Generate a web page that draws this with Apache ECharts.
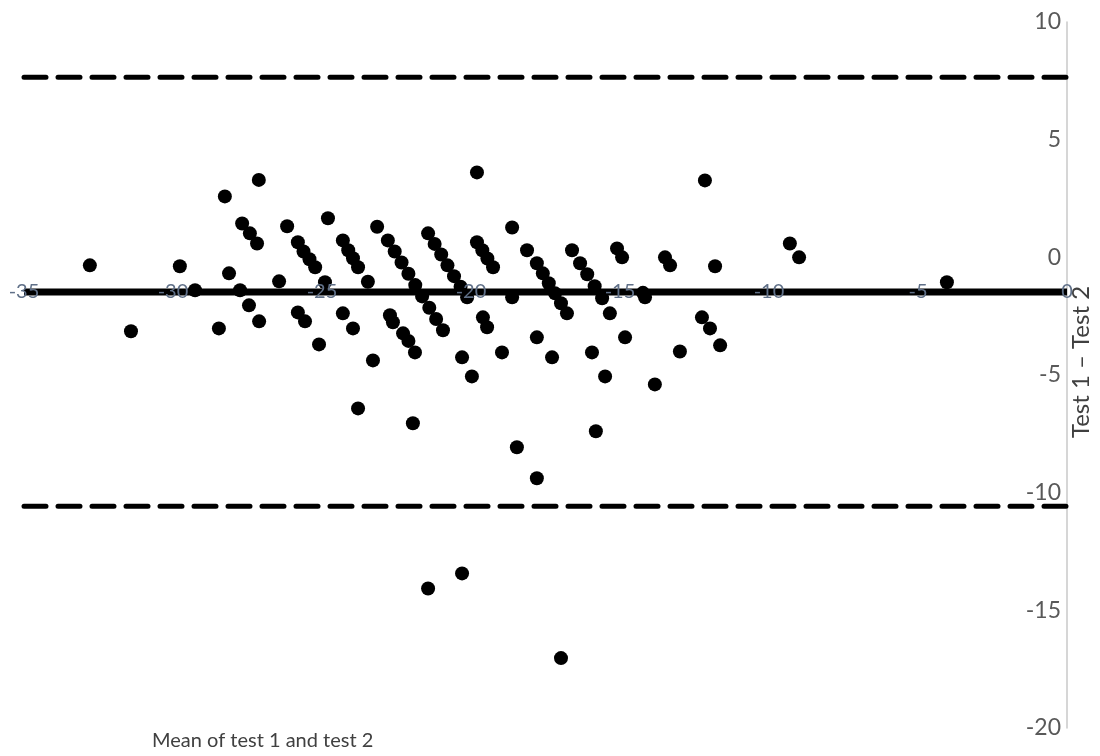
<!DOCTYPE html>
<html>
<head>
<meta charset="utf-8">
<script src="https://cdn.jsdelivr.net/npm/echarts@6/dist/echarts.min.js"></script>
<style>
html,body{margin:0;padding:0;background:#fff;overflow:hidden;width:100%;height:100%;}
#chart{width:1100px;height:756px;position:absolute;left:0;top:0;}
</style>
</head>
<body>
<div id="chart"></div>
<script>
// Mean of test 1 and test 2 (x)
const meanValues = [
 -32.79,-31.41,-29.77,-29.26,-28.46,-28.26,-28.12,-27.75,-27.68,-27.42,-27.18,-27.12,-27.45,-27.11,-26.44,-26.17,-25.81,-25.62,-25.42,-25.23,-25.81,-25.57,-25.10,-24.80,-24.90,-24.30,-24.12,-23.96,-23.79,-24.30,-23.96,-23.46,-23.15,-23.29,-23.79,
 -22.79,-22.56,-22.33,-22.10,-21.87,-21.64,-21.40,-21.17,-20.94,
 -22.72,-22.62,-22.28,-22.10,-21.88,-21.95,
 -21.44,-21.22,-21.00,-20.79,-20.57,-20.35,-20.13,
 -19.80,-19.62,-19.45,-19.26,-19.80,-19.60,-19.46,-20.30,-19.97,-18.96,-18.62,-18.62,-18.12,
 -17.79,-17.59,-17.39,-17.18,-16.98,-16.78,-17.79,-18.46,-17.79,-17.28,-16.61,
 -16.34,-16.10,-15.85,-15.60,-15.10,-14.93,-14.23,-14.16,-15.34,-14.83,-15.94,-15.50,-15.81,
 -13.49,-13.32,-13.83,-12.99,-12.15,-11.81,-12.25,-11.98,-11.64,-9.30,-8.99,-4.03,-21.44,-20.30,-16.98
];
// Test 1 - Test 2 (y)
const differences = [
 -0.34,-3.14,-0.38,-1.40,-3.02,2.59,-0.68,-1.40,1.44,1.02,0.59,3.29,-2.04,-2.72,-1.02,1.32,0.64,0.25,-0.08,-0.42,-2.34,-2.72,-3.70,1.66,-1.06,0.72,0.30,-0.04,-0.42,-2.38,-3.02,-1.04,1.30,-4.38,-6.42,
 0.72,0.25,-0.22,-0.70,-1.18,-1.66,-2.14,-2.62,-3.10,
 -2.46,-2.76,-3.23,-3.55,-4.04,-7.05,
 1.02,0.57,0.12,-0.34,-0.80,-1.25,-1.70,
 0.64,0.30,-0.05,-0.42,3.61,-2.55,-2.97,-4.25,-5.06,-4.04,1.27,-1.70,0.30,
 -0.25,-0.68,-1.10,-1.53,-1.95,-2.38,-3.40,-8.07,-9.39,-4.25,0.30,
 -0.25,-0.72,-1.23,-1.74,0.38,0.00,-1.51,-1.70,-2.38,-3.40,-4.04,-5.06,-7.39,
 0.00,-0.34,-5.40,-4.00,3.27,-0.38,-2.55,-3.02,-3.74,0.59,0.00,-1.06,-14.07,-13.43,-17.03
];
const bias = -1.47;
const upperLimit = 7.65;
const lowerLimit = -10.58;
const xRange = [-35, 0];
const yRange = [-20, 10];
const xLabelText = 'Mean of test 1 and test 2';
const yLabelText = 'Test 1 \u2013 Test 2';

const points = meanValues.map((m, i) => [m, differences[i]]);

const W = 1100, H = 756;
const gridTop = 22, gridBottom = 28, gridLeft = 24, gridRight = 33;
const gridH = H - gridTop - gridBottom;
const xAxisOffset = -((bias - yRange[0]) / (yRange[1] - yRange[0])) * gridH;

const chart = echarts.init(document.getElementById('chart'), null, {renderer: 'canvas', width: W, height: H});
const font = 'Lato, "Open Sans", sans-serif';
chart.setOption({
  animation: false,
  backgroundColor: '#ffffff',
  title: {
    text: xLabelText,
    left: 147, top: 726,
    textStyle: {fontFamily: font, fontSize: 20, fontWeight: 'normal', color: '#404040'}
  },
  graphic: [{
    type: 'text',
    x: W - 19, y: 362,
    rotation: Math.PI / 2,
    style: {
      text: yLabelText, fontFamily: font, fontSize: 24, fill: '#404040',
      align: 'center', verticalAlign: 'middle'
    }
  }],
  grid: {left: gridLeft, right: gridRight, top: gridTop, bottom: gridBottom, containLabel: false},
  xAxis: {
    type: 'value', min: xRange[0], max: xRange[1], interval: 5,
    position: 'bottom',
    offset: xAxisOffset,
    z: 10,
    axisLine: {show: false},
    axisTick: {show: false},
    splitLine: {show: false},
    axisLabel: {
      margin: 0, verticalAlign: 'middle',
      fontFamily: font, fontSize: 20, color: '#607088'
    }
  },
  yAxis: {
    type: 'value', min: yRange[0], max: yRange[1], interval: 5,
    position: 'right',
    axisLine: {show: true, onZero: false, lineStyle: {color: '#c8c8c8', width: 1.5}},
    axisTick: {show: false},
    splitLine: {show: false},
    axisLabel: {
      inside: true, margin: 6, align: 'right',
      fontFamily: font, fontSize: 23, color: '#595959'
    }
  },
  series: [
    {
      type: 'line', data: [[xRange[0], bias], [xRange[1], bias]],
      symbol: 'none', silent: true, z: 1,
      lineStyle: {color: '#000', width: 7}
    },
    {
      type: 'line', data: [[xRange[0], upperLimit], [xRange[1], upperLimit]],
      symbol: 'none', silent: true, z: 1,
      lineStyle: {color: '#000', width: 5, type: [22, 12], cap: 'round'}
    },
    {
      type: 'line', data: [[xRange[0], lowerLimit], [xRange[1], lowerLimit]],
      symbol: 'none', silent: true, z: 1,
      lineStyle: {color: '#000', width: 5, type: [22, 12], cap: 'round'}
    },
    {
      type: 'scatter', data: points, symbol: 'circle', symbolSize: 14, z: 3,
      itemStyle: {color: '#000', opacity: 1}
    }
  ]
});
</script>
</body>
</html>
